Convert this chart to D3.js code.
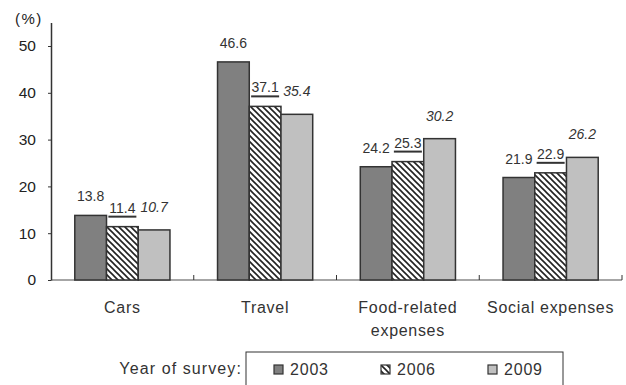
<!DOCTYPE html>
<html>
<head>
<meta charset="utf-8">
<script src="https://cdn.jsdelivr.net/npm/d3@7"></script>
<style>
  body { margin: 0; background: #fff; }
  svg { display: block; font-family: Arial, 'Liberation Sans', sans-serif; }
</style>
</head>
<body>
<svg id="chart"></svg>
<script>
// chart data
const categories = ['Cars', 'Travel', 'Food-related expenses', 'Social expenses'];
const category_lines = [['Cars'], ['Travel'], ['Food-related', 'expenses'], ['Social expenses']];
const years = ['2003', '2006', '2009'];
const values_2003 = [13.8, 46.6, 24.2, 21.9];
const values_2006 = [11.4, 37.1, 25.3, 22.9];
const values_2009 = [10.7, 35.4, 30.2, 26.2];
const y_ticks = [0, 10, 20, 30, 40, 50];

const width = 626;
const height = 385;
const plot_left = 51;
const plot_right = 622;
const plot_bottom = 280;
const plot_top = 22.6;
const ink = '#333';

const series = [values_2003, values_2006, values_2009];
const fills = { '2003': '#808080', '2006': 'url(#hatch)', '2009': '#c0c0c0' };
// how far above the bar top each label's baseline sits
const label_lift = { '2003': 14, '2006': 14, '2009': 18 };

const svg = d3.select('#chart')
  .attr('width', width)
  .attr('height', height);

// diagonal hatch for 2006
const pattern = svg.append('defs').append('pattern')
  .attr('id', 'hatch')
  .attr('patternUnits', 'userSpaceOnUse')
  .attr('width', 6)
  .attr('height', 6);
pattern.append('rect').attr('width', 6).attr('height', 6).attr('fill', '#fff');
pattern.append('path')
  .attr('d', 'M0,0 L6,6 M-1,5 L1,7 M5,-1 L7,1')
  .attr('stroke', '#222')
  .attr('stroke-width', 1.6);

const x0 = d3.scaleBand().domain(categories).range([plot_left, plot_right]).padding(0);
const x1 = d3.scaleBand().domain(years).range([0, x0.bandwidth()]).paddingInner(0).paddingOuter(0.75);
const y = d3.scaleLinear().domain([0, 55]).range([plot_bottom, plot_top]);

const rows = [];
categories.forEach((c, ci) => {
  years.forEach((yr, yi) => {
    rows.push({ category: c, year: yr, value: series[yi][ci] });
  });
});

// x axis line and category dividers
svg.append('line')
  .attr('x1', plot_left).attr('x2', plot_right)
  .attr('y1', plot_bottom).attr('y2', plot_bottom)
  .attr('stroke', '#888').attr('stroke-width', 1.5);

svg.selectAll('.divider')
    .data(categories)
  .enter().append('line')
    .attr('class', 'divider')
    .attr('x1', (d) => x0(d) + x0.bandwidth())
    .attr('x2', (d) => x0(d) + x0.bandwidth())
    .attr('y1', plot_bottom - 5)
    .attr('y2', plot_bottom)
    .attr('stroke', ink)
    .attr('stroke-width', 1);

// bars
svg.append('g').selectAll('rect')
    .data(rows)
  .enter().append('rect')
    .attr('x', (d) => x0(d.category) + x1(d.year))
    .attr('y', (d) => y(d.value))
    .attr('width', x1.bandwidth())
    .attr('height', (d) => y(0) - y(d.value))
    .attr('fill', (d) => fills[d.year])
    .attr('stroke', ink)
    .attr('stroke-width', 1.5);

// y axis
const y_axis = svg.append('g')
  .attr('transform', `translate(${plot_left},0)`)
  .call(d3.axisLeft(y).tickValues(y_ticks).tickSize(3).tickSizeOuter(0).tickPadding(12));
y_axis.select('.domain').attr('stroke', ink).attr('stroke-width', 1.5);
y_axis.selectAll('.tick line').attr('stroke', ink);
y_axis.selectAll('.tick text')
  .attr('font-size', 15.5)
  .attr('font-family', 'Arial, Liberation Sans, sans-serif')
  .attr('fill', '#222');

svg.append('text')
  .attr('x', 15).attr('y', 24)
  .attr('font-size', 15)
  .style('letter-spacing', '1.5px')
  .attr('fill', '#222')
  .text('(%)');

// value labels
svg.append('g').selectAll('text')
    .data(rows)
  .enter().append('text')
    .attr('x', (d) => x0(d.category) + x1(d.year) + x1.bandwidth() / 2)
    .attr('y', (d) => y(d.value) - label_lift[d.year])
    .attr('text-anchor', 'middle')
    .attr('font-size', 14)
    .attr('font-style', (d) => (d.year === '2009' ? 'italic' : 'normal'))
    .attr('fill', ink)
    .text((d) => d.value.toFixed(1));

// 2006 labels are underlined
svg.append('g').selectAll('line')
    .data(rows.filter((d) => d.year === '2006'))
  .enter().append('line')
    .attr('x1', (d) => x0(d.category) + x1(d.year) + x1.bandwidth() / 2 - 14)
    .attr('x2', (d) => x0(d.category) + x1(d.year) + x1.bandwidth() / 2 + 14)
    .attr('y1', (d) => y(d.value) - label_lift[d.year] + 4)
    .attr('y2', (d) => y(d.value) - label_lift[d.year] + 4)
    .attr('stroke', ink)
    .attr('stroke-width', 2);

// category labels
const cat_labels = svg.append('g').selectAll('text')
    .data(categories)
  .enter().append('text')
    .attr('x', (d) => x0(d) + x0.bandwidth() / 2)
    .attr('y', 313)
    .attr('text-anchor', 'middle')
    .attr('font-size', 16)
    .style('letter-spacing', '0.7px')
    .attr('fill', ink);
cat_labels.each(function (d, i) {
  const t = d3.select(this);
  category_lines[i].forEach((line, li) => {
    t.append('tspan')
      .attr('x', x0(d) + x0.bandwidth() / 2)
      .attr('dy', li === 0 ? 0 : 23)
      .text(line);
  });
});

// legend
svg.append('text')
  .attr('x', 242).attr('y', 374)
  .attr('text-anchor', 'end')
  .attr('font-size', 16)
  .style('letter-spacing', '1.1px')
  .attr('fill', ink)
  .text('Year of survey:');

svg.append('rect')
  .attr('x', 246).attr('y', 352)
  .attr('width', 317).attr('height', 45)
  .attr('fill', 'none')
  .attr('stroke', ink)
  .attr('stroke-width', 1);

const lx = d3.scaleBand().domain(years).range([274, 595]);
const legend = svg.append('g').selectAll('g')
    .data(years)
  .enter().append('g')
    .attr('transform', (d) => `translate(${lx(d)},365)`);
legend.append('rect')
  .attr('width', 9).attr('height', 9)
  .attr('fill', (d) => fills[d])
  .attr('stroke', ink)
  .attr('stroke-width', 1.2);
legend.append('text')
  .attr('x', 16).attr('y', 10)
  .attr('font-size', 16)
  .style('letter-spacing', '0.8px')
  .attr('fill', ink)
  .text((d) => d);
</script>
</body>
</html>
